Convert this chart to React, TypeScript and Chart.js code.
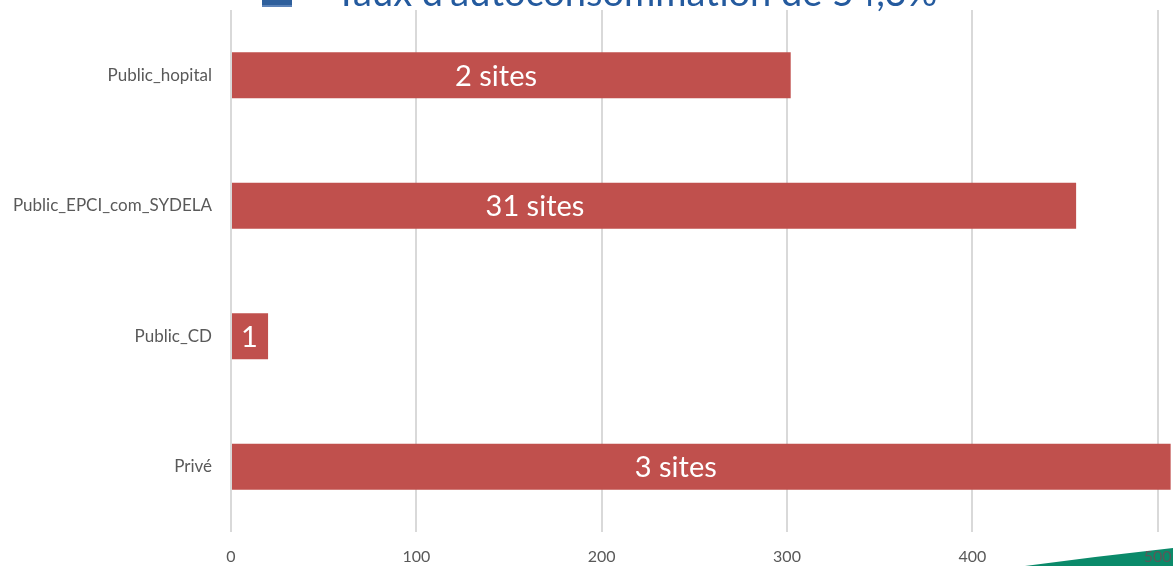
import React, { useEffect, useRef } from "react";
import { Chart, registerables } from "chart.js";

Chart.register(...registerables);

const categories = ["Public_hopital", "Public_EPCI_com_SYDELA", "Public_CD", "Privé"];
const values = [302, 456, 20, 507];
const siteLabels = ["2 sites", "31 sites", "1", "3 sites"];
const siteLabelAt = [143, 164, 10, 240];
const xTicks = [0, 100, 200, 300, 400, 500, 600];
const titleText = "Taux d'autoconsommation de 54,3%";

const FONT = "Lato, 'Open Sans', sans-serif";

const overlayPlugin = {
  id: "overlay",
  beforeDraw(chart: any) {
    const { ctx } = chart;
    ctx.save();
    // green decoration bottom-right (behind tick labels)
    ctx.fillStyle = "#0B8A6A";
    ctx.beginPath();
    ctx.moveTo(1025, 566);
    ctx.quadraticCurveTo(1100, 556, 1173, 548);
    ctx.lineTo(1173, 566);
    ctx.closePath();
    ctx.fill();
    ctx.restore();
  },
  afterDatasetsDraw(chart: any) {
    const { ctx, scales } = chart;
    const xs = scales.x;
    const ys = scales.y;
    ctx.save();
    ctx.fillStyle = "#ffffff";
    ctx.font = `29px ${FONT}`;
    ctx.textAlign = "center";
    ctx.textBaseline = "middle";
    siteLabels.forEach((t, i) => {
      ctx.fillText(t, xs.getPixelForValue(siteLabelAt[i]), ys.getPixelForValue(i) + 1);
    });
    ctx.restore();
  },
  afterDraw(chart: any) {
    const { ctx } = chart;
    ctx.save();
    // title (cut off at top)
    ctx.fillStyle = "#2E5F9C";
    ctx.fillRect(262, -20, 30, 26);
    ctx.fillStyle = "#5B82B8";
    ctx.fillRect(262, 5, 30, 2);
    ctx.fillStyle = "#245A9E";
    ctx.font = `38px ${FONT}`;
    ctx.textAlign = "left";
    ctx.textBaseline = "alphabetic";
    ctx.fillText(titleText, 335, 6);
    ctx.restore();
  },
};

export default function App() {
  const ref = useRef<HTMLCanvasElement>(null);
  useEffect(() => {
    if (!ref.current) return;
    const chart = new Chart(ref.current, {
      type: "bar",
      data: {
        labels: categories,
        datasets: [
          {
            data: values,
            backgroundColor: "#C0504D",
            barPercentage: 0.352,
            categoryPercentage: 1,
          },
        ],
      },
      options: {
        indexAxis: "y",
        responsive: false,
        animation: false,
        layout: { padding: { top: 10, right: 57, left: 0, bottom: 0 } },
        plugins: { legend: { display: false }, tooltip: { enabled: false } },
        scales: {
          x: {
            min: 0,
            max: 600,
            afterBuildTicks: (s: any) => {
              s.ticks = xTicks.map((v) => ({ value: v }));
            },
            afterFit: (s: any) => {
              s.height = 34;
              s.paddingLeft = 0;
              s.paddingRight = 0;
            },
            border: { display: false },
            grid: { color: "#D9D9D9", lineWidth: 2, drawTicks: false },
            ticks: { color: "#595959", font: { family: FONT, size: 16 }, padding: 15, autoSkip: false },
          },
          y: {
            afterFit: (s: any) => {
              s.width = 231;
              s.paddingTop = 0;
              s.paddingBottom = 0;
            },
            border: { display: false },
            grid: { display: false, drawTicks: false },
            ticks: { color: "#595959", font: { family: FONT, size: 17 }, padding: 19 },
          },
        },
      },
      plugins: [overlayPlugin],
    });
    return () => chart.destroy();
  }, []);
  return (
    <div style={{ position: "absolute", left: 0, top: 0, width: 1173, height: 566, overflow: "hidden", background: "#fff" }}>
      <canvas ref={ref} width={1400} height={566} style={{ display: "block" }} />
    </div>
  );
}
